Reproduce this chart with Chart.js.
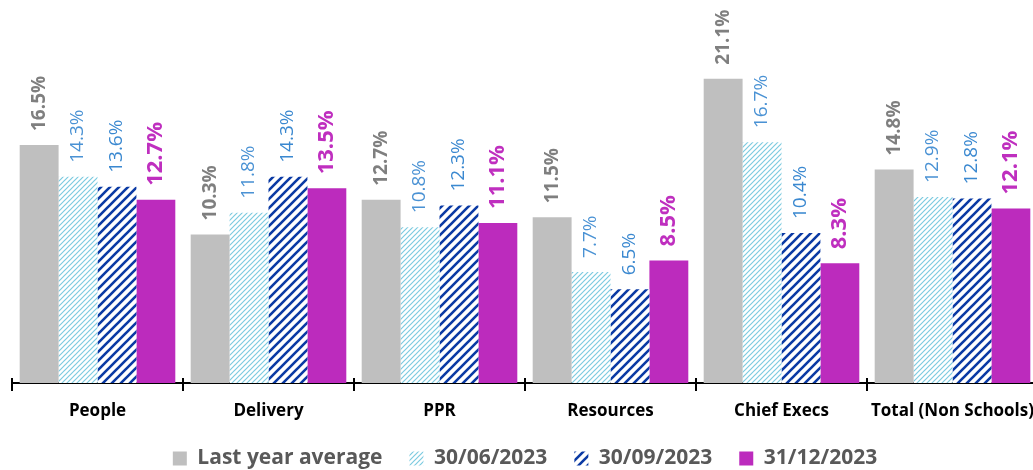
<!DOCTYPE html>
<html>
<head>
<meta charset="utf-8">
<script src="https://cdn.jsdelivr.net/npm/chart.js@4/dist/chart.umd.min.js"></script>
<style>
  html, body { margin: 0; padding: 0; background: #fff; overflow: hidden; }
  #wrap { width: 1077px; height: 470px; }
</style>
</head>
<body>
<div id="wrap"><canvas id="chart"></canvas></div>
<script>
// data
const categories = ["People", "Delivery", "PPR", "Resources", "Chief Execs", "Total (Non Schools)"];
const seriesNames = ["Last year average", "30/06/2023", "30/09/2023", "31/12/2023"];
const lastYearAvg = [16.5, 10.3, 12.7, 11.5, 21.1, 14.8];
const jun2023 = [14.3, 11.8, 10.8, 7.7, 16.7, 12.9];
const sep2023 = [13.6, 14.3, 12.3, 6.5, 10.4, 12.8];
const dec2023 = [12.7, 13.5, 11.1, 8.5, 8.3, 12.1];

const FONT = "'Open Sans', Lato, sans-serif";

function stripes(size, lineWidth, color) {
    const c = document.createElement("canvas");
    c.width = size;
    c.height = size;
    const g = c.getContext("2d");
    g.fillStyle = "#fff";
    g.fillRect(0, 0, size, size);
    g.strokeStyle = color;
    g.lineWidth = lineWidth;
    g.beginPath();
    g.moveTo(-1, size + 1);
    g.lineTo(size + 1, -1);
    g.moveTo(-size / 2 - 1, size / 2 + 1);
    g.lineTo(size / 2 + 1, -size / 2 - 1);
    g.moveTo(size / 2 - 1, size * 1.5 + 1);
    g.lineTo(size * 1.5 + 1, size / 2 - 1);
    g.stroke();
    return g.createPattern(c, "repeat");
}

const ctx = document.getElementById("chart").getContext("2d");
const lightHatch = stripes(5, 1.2, "#7ccbe0");
const darkHatch = stripes(9, 2.6, "#0b3aa4");

// label styling per series
const labelStyles = [
    { color: "#7f7f7f", font: "bold 19px " + FONT },
    { color: "#4a92d4", font: "19px " + FONT },
    { color: "#3a88d0", font: "19px " + FONT },
    { color: "#bf2fbf", font: "bold 22px " + FONT }
];

const valueLabels = {
    id: "valueLabels",
    afterDatasetsDraw(chart) {
        const c = chart.ctx;
        chart.data.datasets.forEach((ds, i) => {
            const meta = chart.getDatasetMeta(i);
            const st = labelStyles[i];
            meta.data.forEach((bar, j) => {
                c.save();
                c.translate(bar.x, bar.y - 14);
                c.rotate(-Math.PI / 2);
                c.font = st.font;
                c.fillStyle = st.color;
                c.textAlign = "left";
                c.textBaseline = "middle";
                c.fillText(ds.data[j].toFixed(1) + "%", 0, 0);
                c.restore();
            });
        });
    },
    afterDraw(chart) {
        // small cross ticks between categories
        const x = chart.scales.x;
        const c = chart.ctx;
        const step = x.width / categories.length;
        c.save();
        c.strokeStyle = "#000";
        c.lineWidth = 2;
        for (let i = 0; i <= categories.length; i++) {
            const px = x.left + i * step;
            c.beginPath();
            c.moveTo(px, x.top - 5);
            c.lineTo(px, x.top + 8);
            c.stroke();
        }
        c.restore();
    }
};

new Chart(ctx, {
    type: "bar",
    data: {
        labels: categories,
        datasets: [
            { label: seriesNames[0], data: lastYearAvg, backgroundColor: "#bfbfbf" },
            { label: seriesNames[1], data: jun2023, backgroundColor: lightHatch },
            { label: seriesNames[2], data: sep2023, backgroundColor: darkHatch },
            { label: seriesNames[3], data: dec2023, backgroundColor: "#bc2bbd" }
        ]
    },
    options: {
        responsive: true,
        maintainAspectRatio: false,
        animation: false,
        layout: { padding: { left: 12, right: 39, top: 8, bottom: -9 } },
        datasets: { bar: { categoryPercentage: 0.91, barPercentage: 1.0 } },
        scales: {
            x: {
                grid: { display: false, drawTicks: false },
                border: { display: true, color: "#000", width: 2 },
                ticks: { color: "#000", font: { family: FONT, size: 17, weight: "bold" }, padding: 18 },
                afterFit(scale) { scale.height = 38; }
            },
            y: { display: false, min: 0, max: 26 }
        },
        plugins: {
            legend: {
                position: "bottom",
                labels: {
                    boxWidth: 14,
                    boxHeight: 14,
                    padding: 27,
                    color: "#595959",
                    font: { family: FONT, size: 21, weight: "bold" }
                }
            },
            tooltip: { enabled: false }
        }
    },
    plugins: [valueLabels]
});
</script>
</body>
</html>
